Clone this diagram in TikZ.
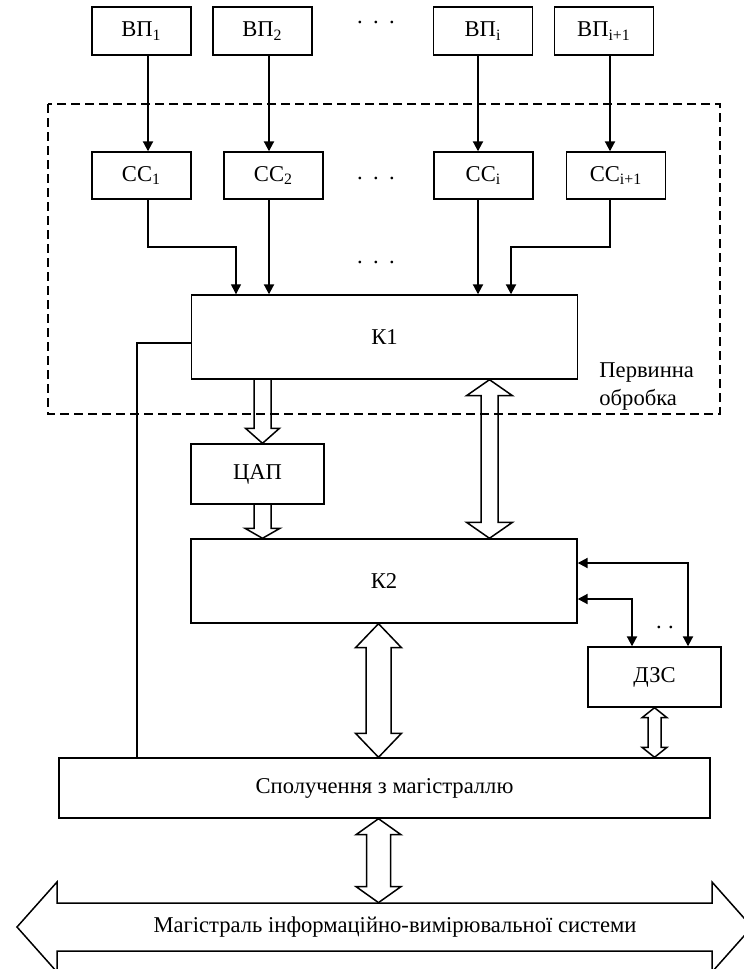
\documentclass[tikz,border=0pt]{standalone}
\usepackage{fontspec}
\setmainfont{Liberation Serif}
\usetikzlibrary{arrows.meta,calc}

% wide (block) arrows between two points on one vertical
\newcommand{\widearrow}[5]{%
  \draw[wide] let \p1=(#1), \p2=(#2) in
    (\x1-#3pt,\y1) -- (\x1-#3pt,\y2+#5pt) -- (\x1-#4pt,\y2+#5pt) -- (\x1,\y2)
    -- (\x1+#4pt,\y2+#5pt) -- (\x1+#3pt,\y2+#5pt) -- (\x1+#3pt,\y1);}
\newcommand{\widedarrow}[5]{%
  \draw[wide] let \p1=(#1), \p2=(#2) in
    (\x1,\y1) -- (\x1+#4pt,\y1-#5pt) -- (\x1+#3pt,\y1-#5pt) -- (\x1+#3pt,\y2+#5pt)
    -- (\x1+#4pt,\y2+#5pt) -- (\x1,\y2) -- (\x1-#4pt,\y2+#5pt) -- (\x1-#3pt,\y2+#5pt)
    -- (\x1-#3pt,\y1-#5pt) -- (\x1-#4pt,\y1-#5pt) -- cycle;}

\begin{document}
\begin{tikzpicture}[x=0.5pt, y=-0.5pt,
    txt/.style={font=\fontsize{11.3pt}{14pt}\selectfont},
    box/.style={rectangle, draw, line width=0.7pt, inner sep=0pt, txt, minimum width=#1},
    box/.default=49.5pt,
    arr/.style={-{Triangle[length=5pt,width=5pt]}, line width=1pt},
    arrthin/.style={-{Triangle[length=5pt,width=5pt]}, line width=0.6pt},
    arr2/.style={{Triangle[length=5pt,width=5pt]}-{Triangle[length=5pt,width=5pt]}, line width=1pt},
    wide/.style={line width=0.75pt, line join=miter},
    frame/.style={line width=0.7pt, dash pattern=on 4.5pt off 2.5pt},
    dots/.style={txt, inner sep=0pt, anchor=base}
]
\useasboundingbox (0,0) rectangle (744,969);

% primary processing frame
\draw[frame] (48,104) rectangle (720,414);
\node[txt, align=left, inner sep=0pt, anchor=north west] (lbl) at (599,362) {Первинна\\обробка};

% sensors
\node[box, minimum height=24pt] (vp1) at (141.5,31) {ВП\textsubscript{1}};
\node[box, minimum height=24pt] (vp2) at (262.5,31) {ВП\textsubscript{2}};
\node[box, minimum height=24pt] (vp3) at (483,31) {ВП\textsubscript{i}};
\node[box, minimum height=24pt] (vp4) at (604,31) {ВП\textsubscript{i+1}};
\node[dots] (dtop) at (376,24) {.\hspace{5.2pt}.\hspace{5.2pt}.};

% signal conditioners
\node[box, minimum height=23.5pt] (cc1) at (141.5,175.5) {СС\textsubscript{1}};
\node[box, minimum height=23.5pt] (cc2) at (273.5,175.5) {СС\textsubscript{2}};
\node[box, minimum height=23.5pt] (cc3) at (483.5,175.5) {СС\textsubscript{i}};
\node[box, minimum height=23.5pt] (cc4) at (616,175.5) {СС\textsubscript{i+1}};
\node[dots] (dcc) at (376,179) {.\hspace{5.2pt}.\hspace{5.2pt}.};
\node[dots] (dmid) at (376,263) {.\hspace{5.2pt}.\hspace{5.2pt}.};

% main blocks
\node[box=193pt, minimum height=42pt] (k1) at (384.5,337) {К1};
\node[box=66.5pt, minimum height=30pt] (dac) at (257.5,474) {ЦАП};
\node[box=193pt, minimum height=42pt] (k2) at (384,581) {К2};
\node[box=66.5pt, minimum height=30pt] (dzs) at (654.5,677) {ДЗС};
\node[dots] (ddzs) at (665,628) {.\hspace{3.2pt}.};
\node[box=325.5pt, minimum height=30pt] (sp) at (384.5,788) {Сполучення з магістраллю};
\node[txt, minimum height=24pt, inner sep=0pt] (bus) at (395,927) {Магістраль інформаційно-вимірювальної системи};

% line positions
\coordinate (c1) at (148,0);
\coordinate (c2) at (269,0);
\coordinate (c3) at (478,0);
\coordinate (c4) at (610,0);
\coordinate (d1) at (236,247);
\coordinate (d4) at (511,247);
\coordinate (e) at (137,343);
\coordinate (g0) at (262.5,0);
\coordinate (g1) at (489.5,0);
\coordinate (g2) at (378.5,0);
\coordinate (f1) at (688,563);
\coordinate (f2) at (632,599);

% sensor lines
\draw[arr] (vp1.south -| c1) -- (cc1.north -| c1);
\draw[arr] (vp2.south -| c2) -- (cc2.north -| c2);
\draw[arr] (vp3.south -| c3) -- (cc3.north -| c3);
\draw[arr] (vp4.south -| c4) -- (cc4.north -| c4);

\draw[arrthin] (cc1.south -| c1) |- (d1) -- (d1 |- k1.north);
\draw[arr] (cc2.south -| c2) -- (k1.north -| c2);
\draw[arr] (cc3.south -| c3) -- (k1.north -| c3);
\draw[arr] (cc4.south -| c4) |- (d4) -- (d4 |- k1.north);

\draw[line width=0.6pt] (k1.west |- e) -- (e) -- (e |- sp.north);

\draw[arr2] (k2.east |- f1) -| (f1 |- dzs.north);
\draw[arr2] (k2.east |- f2) -| (f2 |- dzs.north);

% block arrows
\widearrow{k1.south -| g0}{dac.north -| g0}{4.25}{8.5}{7.5}
\widearrow{dac.south -| g0}{k2.north -| g0}{4.25}{8.75}{5}
\widedarrow{k1.south -| g1}{k2.north -| g1}{4.25}{11.5}{8}
\widedarrow{k2.south -| g2}{sp.north -| g2}{6.25}{11.5}{12}
\widedarrow{sp.south -| g2}{bus.north -| g2}{6}{11.25}{8}
\widedarrow{dzs.south}{sp.north -| dzs.south}{3.25}{6.25}{5}

% system bus
\draw[wide] (17,927) -- (57,882) -- (57,903) -- (712,903) -- (712,882) -- (752,927)
    -- (712,972) -- (712,951) -- (57,951) -- (57,972) -- cycle;
\end{tikzpicture}
\end{document}
